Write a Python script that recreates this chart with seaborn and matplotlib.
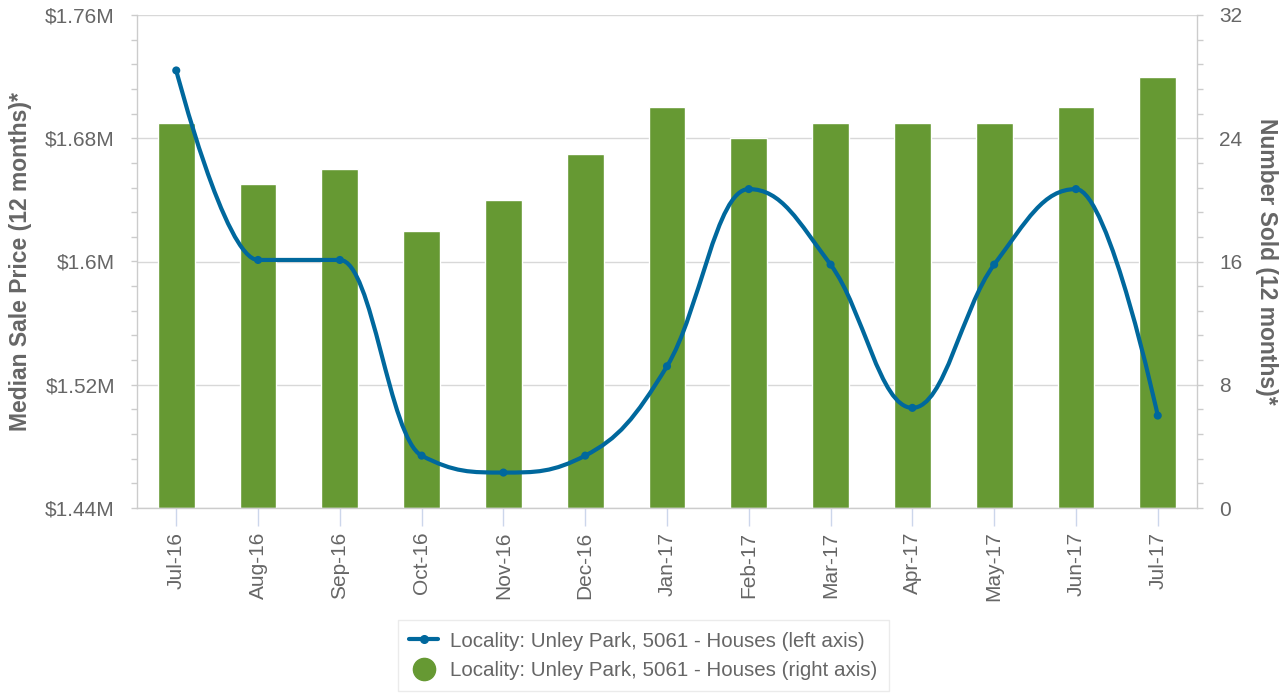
import numpy as np
import matplotlib
matplotlib.use("Agg")
import matplotlib.pyplot as plt
from matplotlib.path import Path
from matplotlib.patches import PathPatch
from matplotlib.lines import Line2D
from matplotlib.ticker import FixedLocator, MultipleLocator, FuncFormatter
import seaborn as sns

# ------------------------------------------------------------
# data
# ------------------------------------------------------------
months = ["Jul-16", "Aug-16", "Sep-16", "Oct-16", "Nov-16", "Dec-16", "Jan-17",
          "Feb-17", "Mar-17", "Apr-17", "May-17", "Jun-17", "Jul-17"]
median_price = [1.724, 1.601, 1.601, 1.474, 1.463, 1.474, 1.532,
                1.647, 1.598, 1.505, 1.598, 1.647, 1.500]   # $M, left axis
number_sold = [25, 21, 22, 18, 20, 23, 26, 24, 25, 25, 25, 26, 28]  # right axis

price_ticks = [1.44, 1.52, 1.60, 1.68, 1.76]
sold_ticks = [0, 8, 16, 24, 32]

line_label = "Locality: Unley Park, 5061 - Houses (left axis)"
bar_label = "Locality: Unley Park, 5061 - Houses (right axis)"

LINE_C = "#00689d"
BAR_C = "#669933"
TEXT_C = "#666666"
AXIS_C = "#cccccc"
GRID_C = "#d8d8d8"

sns.set_theme(style="white")
plt.rcParams["font.family"] = ["Liberation Sans", "DejaVu Sans"]

FS = 15        # tick labels
FS_LEG = 14.8
FS_TITLE = 16.5


def spline_path(xs, ys, smoothing=1.5):
    # smooth curve through the points, same idea as a Highcharts "spline"
    n = len(xs)
    denom = smoothing + 1
    left = [(x, y) for x, y in zip(xs, ys)]
    right = [(x, y) for x, y in zip(xs, ys)]
    for i in range(1, n - 1):
        px, py = xs[i], ys[i]
        lx, ly = xs[i - 1], ys[i - 1]
        nx, ny = xs[i + 1], ys[i + 1]
        lcx = (smoothing * px + lx) / denom
        lcy = (smoothing * py + ly) / denom
        rcx = (smoothing * px + nx) / denom
        rcy = (smoothing * py + ny) / denom
        if rcx != lcx:
            corr = (rcy - lcy) * (rcx - px) / (rcx - lcx) + py - rcy
            lcy += corr
            rcy += corr
            if lcy > ly and lcy > py:
                lcy = max(ly, py)
                rcy = 2 * py - lcy
            elif lcy < ly and lcy < py:
                lcy = min(ly, py)
                rcy = 2 * py - lcy
            if rcy > ny and rcy > py:
                rcy = max(ny, py)
                lcy = 2 * py - rcy
            elif rcy < ny and rcy < py:
                rcy = min(ny, py)
                lcy = 2 * py - rcy
        left[i] = (lcx, lcy)
        right[i] = (rcx, rcy)
    verts = [(xs[0], ys[0])]
    codes = [Path.MOVETO]
    for i in range(1, n):
        verts += [right[i - 1], left[i], (xs[i], ys[i])]
        codes += [Path.CURVE4] * 3
    return Path(verts, codes)


fig = plt.figure(figsize=(12.88, 6.95), dpi=100)
ax1 = fig.add_axes([137 / 1288, 1 - 508 / 695, 1060 / 1288, 493 / 695])
ax2 = ax1.twinx()

# left axis on top so the line sits over the bars
ax1.set_zorder(ax2.get_zorder() + 1)
ax1.patch.set_visible(False)

# ------------------------------------------------------------
# bars - number sold (right axis)
# ------------------------------------------------------------
sns.barplot(x=months, y=number_sold, ax=ax2, color=BAR_C, saturation=1,
            width=0.45, edgecolor="white", linewidth=1, zorder=2)
ax2.set_ylim(0, 32)
ax2.yaxis.set_major_locator(FixedLocator(sold_ticks))
ax2.yaxis.set_minor_locator(MultipleLocator(1.6))
ax2.grid(axis="y", color=GRID_C, linewidth=1, zorder=0)
ax2.set_axisbelow(True)

# ------------------------------------------------------------
# spline - median price (left axis)
# ------------------------------------------------------------
xpos = np.arange(len(months))
ax1.add_patch(PathPatch(spline_path(list(xpos), median_price), fill=False,
                        edgecolor=LINE_C, linewidth=3, capstyle="round",
                        joinstyle="round", zorder=3))
sns.scatterplot(x=xpos, y=median_price, ax=ax1, color=LINE_C, s=34,
                edgecolor="none", zorder=4, legend=False)

ax1.set_ylim(1.44, 1.76)
ax1.set_xlim(-0.48, len(months) - 1 + 0.48)
ax1.yaxis.set_major_locator(FixedLocator(price_ticks))
ax1.yaxis.set_minor_locator(MultipleLocator(0.016))
ax1.yaxis.set_major_formatter(FuncFormatter(lambda v, p: f"${round(v, 2):g}M"))
ax1.set_xticks(xpos)
ax1.set_xticklabels(months, rotation=90, color=TEXT_C, fontsize=FS)

# ------------------------------------------------------------
# axes styling
# ------------------------------------------------------------
for side in ["top", "right"]:
    ax1.spines[side].set_visible(False)
for side in ["top", "left", "bottom"]:
    ax2.spines[side].set_visible(False)
for sp in [ax1.spines["left"], ax1.spines["bottom"], ax2.spines["right"]]:
    sp.set_color(AXIS_C)
    sp.set_linewidth(1)

ax1.tick_params(axis="y", which="both", left=True, direction="out",
                length=6 * 0.72, width=1, color=AXIS_C, labelcolor=TEXT_C,
                labelsize=FS, pad=11.5)
ax2.tick_params(axis="y", which="both", right=True, direction="out",
                length=6 * 0.72, width=1, color=AXIS_C, labelcolor=TEXT_C,
                labelsize=FS, pad=11.5)
ax1.tick_params(axis="x", bottom=True, direction="out", length=18 * 0.72,
                width=1, color="#ccd6eb", pad=4)

ax1.set_xlabel("")
ax2.set_xlabel("")
ax1.set_ylabel("Median Sale Price (12 months)*", fontsize=FS_TITLE,
               fontweight="bold", color=TEXT_C, va="center")
ax1.yaxis.set_label_coords(-0.110, 0.5)
ax2.set_ylabel("Number Sold (12 months)*", fontsize=FS_TITLE, fontweight="bold",
               color=TEXT_C, rotation=270, va="center")
ax2.yaxis.set_label_coords(1.066, 0.5)

# ------------------------------------------------------------
# legend
# ------------------------------------------------------------
handles = [
    Line2D([], [], color=LINE_C, linewidth=3, marker="o", markersize=5.5),
    Line2D([], [], color=BAR_C, linestyle="none", marker="o", markersize=16),
]
leg = fig.legend(handles, [line_label, bar_label], loc="center",
                 bbox_to_anchor=(0.4996, 0.0565), frameon=True, fancybox=False,
                 fontsize=FS_LEG, labelcolor=TEXT_C, handlelength=1.4,
                 handletextpad=0.6, labelspacing=0.5, borderpad=0.55,
                 borderaxespad=0)
leg.get_frame().set_edgecolor("#e6e6e6")
leg.get_frame().set_linewidth(1)

fig.savefig("out.png", dpi=100, facecolor="white")
